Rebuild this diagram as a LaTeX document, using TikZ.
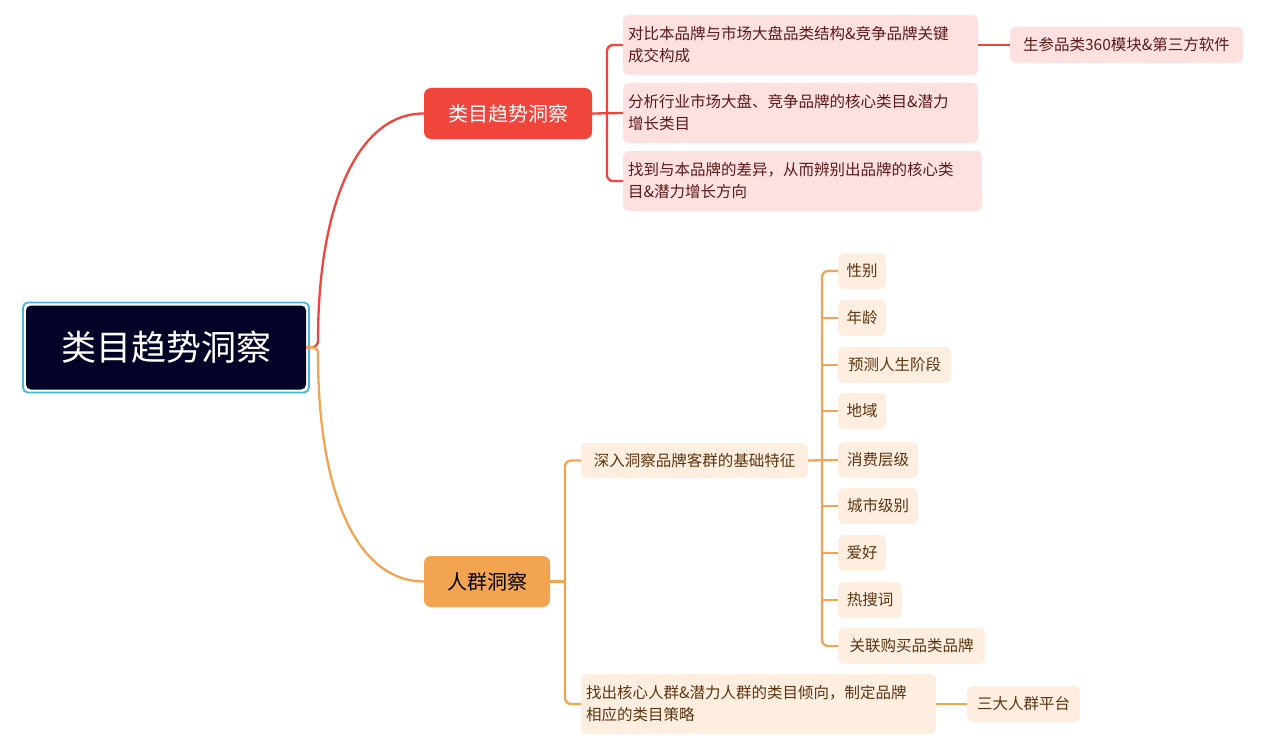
\documentclass[tikz,border=0pt]{standalone}
\usepackage{fontspec}
\setmainfont{Noto Sans CJK SC}
\begin{document}
\begin{tikzpicture}[x=1pt,y=-1pt,
  rc/.style={fill=rcfill, rounded corners=6pt, inner sep=0pt, text=rctext, font=\fontsize{15.5}{22}\selectfont},
  oc/.style={fill=ocfill, rounded corners=6pt, inner sep=0pt, text=octext, font=\fontsize{15.5}{22}\selectfont},
  rl/.style={draw=rline, line width=2.3pt, rounded corners=6pt},
  ol/.style={draw=oline, line width=2.3pt, rounded corners=6pt}]
\definecolor{rcfill}{HTML}{FDE1E0}\definecolor{rctext}{HTML}{5A1A1A}
\definecolor{ocfill}{HTML}{FEEEDF}\definecolor{octext}{HTML}{5A3512}
\definecolor{rline}{HTML}{F0453A}\definecolor{oline}{HTML}{F2A450}
\useasboundingbox (0,0) rectangle (1280,752);
% root
\node[draw={rgb,255:red,70;green,180;blue,235}, line width=1.8pt, fill=white, rounded corners=5pt, minimum width=286pt, minimum height=90pt] (rootb) at (166,347.5) {};
\node[fill={rgb,255:red,3;green,3;blue,40}, rounded corners=5pt, minimum width=280pt, minimum height=84pt, text=white, font=\fontsize{35}{38}\selectfont] (root) at (166,347.5) {类目趋势洞察};
% branches
\node[fill=rline, rounded corners=7pt, minimum width=168pt, minimum height=51pt, text=white, font=\fontsize{20}{23}\selectfont] (rb) at (508,113.5) {类目趋势洞察};
\node[fill=oline, rounded corners=7pt, minimum width=126pt, minimum height=51pt, text=black, font=\fontsize{20}{23}\selectfont] (ob) at (487,581.5) {人群洞察};
\draw[rl] (root.east) -- (318,347) .. controls (318,200) and (360,113) .. (rb.west);
\draw[ol] (root.east) -- (318,347) .. controls (318,500) and (360,581.5) .. (ob.west);
% red children
\node[rc, minimum width=355pt, minimum height=60pt, text width=345pt, align=left] (c1) at (800.5,45) {对比本品牌与市场大盘品类结构\&竞争品牌关键\\成交构成};
\node[rc, minimum width=355pt, minimum height=60pt, text width=345pt, align=left] (c2) at (800.5,113) {分析行业市场大盘、竞争品牌的核心类目\&潜力\\增长类目};
\node[rc, minimum width=359pt, minimum height=60pt, text width=349pt, align=left] (c3) at (802.5,181) {找到与本品牌的差异，从而辨别出品牌的核心类\\目\&潜力增长方向};
\node[rc, minimum width=233pt, minimum height=36pt] (c11) at (1126.5,45) {生参品类360模块\&第三方软件};
\draw[rl] (rb.east) -- (c2.west);
\draw[rl] (c1.west) -- (607,45) -- (607,181) -- (c3.west);
\draw[rl] (c1.east) -- (c11.west);
% orange children
\node[oc, minimum width=227pt, minimum height=35pt] (o1) at (694.5,460.5) {深入洞察品牌客群的基础特征};
\node[oc, minimum width=355pt, minimum height=60pt, text width=345pt, align=left] (o2) at (758.5,704) {找出核心人群\&潜力人群的类目倾向，制定品牌\\相应的类目策略};
\node[oc, minimum width=113pt, minimum height=36pt] (o21) at (1023.5,704) {三大人群平台};
\draw[ol] (ob.east) -- (565,581.5);
\draw[ol] (o1.west) -- (565,460.5) -- (565,704) -- (o2.west);
\draw[ol] (o2.east) -- (o21.west);
% leaves
\foreach \n/\y/\w/\t in {l1/271/48/性别, l2/318/48/年龄, l3/365/113/预测人生阶段, l4/411/48/地域, l5/460/80/消费层级, l6/506/80/城市级别, l7/553/48/爱好, l8/600/64/热搜词, l9/646/147/关联购买品类品牌}{
  \node[oc, minimum width=\w pt, minimum height=36pt, anchor=west] (\n) at (838,\y) {\t};
}
\draw[ol] (o1.east) -- (l5.west);
\draw[ol] (l1.west) -- (822,271) -- (822,646) -- (l9.west);
\foreach \n in {l2,l3,l4,l6,l7,l8}{ \draw[ol] (822,0 |- \n.west) -- (\n.west); }
\end{tikzpicture}
\end{document}
